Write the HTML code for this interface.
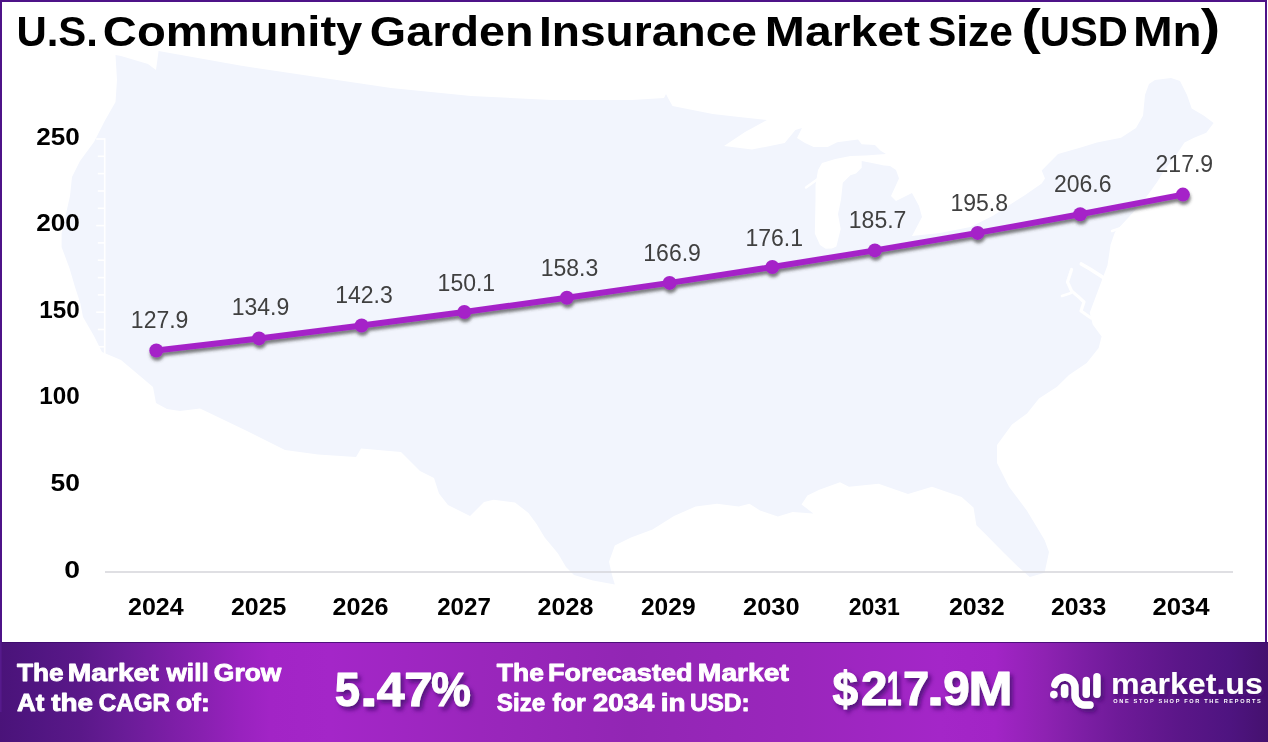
<!DOCTYPE html><html><head><meta charset="utf-8"><title>U.S. Community Garden Insurance Market Size</title>
<style>html,body{margin:0;padding:0;background:#fff;}body{width:1268px;height:742px;overflow:hidden;position:relative;}svg{position:absolute;left:0;top:0;display:block;}.b{font-family:"Liberation Sans",Arial,sans-serif;font-weight:700;}.r{font-family:"Liberation Sans",Arial,sans-serif;font-weight:400;}</style></head><body>
<svg width="1268" height="742" viewBox="0 0 1268 742">
<defs><linearGradient id="band" x1="0" y1="0" x2="1268" y2="0" gradientUnits="userSpaceOnUse"><stop offset="0.0000" stop-color="#4A1379"/><stop offset="0.0237" stop-color="#4F1580"/><stop offset="0.0631" stop-color="#5A1889"/><stop offset="0.0994" stop-color="#6A1C98"/><stop offset="0.1341" stop-color="#7C1EA6"/><stop offset="0.1593" stop-color="#8820B0"/><stop offset="0.1893" stop-color="#9822BE"/><stop offset="0.2129" stop-color="#A224C6"/><stop offset="0.2603" stop-color="#A426C8"/><stop offset="0.3785" stop-color="#9A26BC"/><stop offset="0.4968" stop-color="#9226B4"/><stop offset="0.6309" stop-color="#9A26BC"/><stop offset="0.7413" stop-color="#A426C8"/><stop offset="0.7847" stop-color="#A224C6"/><stop offset="0.8241" stop-color="#8E22B2"/><stop offset="0.8557" stop-color="#7C1EA4"/><stop offset="0.8833" stop-color="#6E1A98"/><stop offset="0.9330" stop-color="#5A1688"/><stop offset="0.9700" stop-color="#4E1480"/><stop offset="1.0000" stop-color="#45116F"/></linearGradient><filter id="mb" x="-2%" y="-2%" width="104%" height="104%"><feGaussianBlur stdDeviation="0.7"/></filter><filter id="ls" x="-5%" y="-20%" width="110%" height="160%"><feDropShadow dx="0.8" dy="3.3" stdDeviation="1.4" flood-color="#3a3a3a" flood-opacity="0.65"/></filter><filter id="ts" x="-10%" y="-20%" width="130%" height="160%"><feDropShadow dx="3" dy="3.5" stdDeviation="2" flood-color="#4a0a72" flood-opacity="0.85"/></filter></defs>
<g filter="url(#mb)"><path d="M115.5 55.0 L121.0 56.0 L148.0 64.0 L156.0 70.0 L158.6 51.0 L240.0 65.6 L310.0 76.0 L391.0 88.0 L471.0 96.0 L552.0 100.0 L632.0 100.0 L664.0 98.0 L666.0 94.0 L668.0 98.0 L672.5 106.0 L712.7 114.0 L739.0 117.0 L767.0 120.0 L745.0 132.0 L724.0 146.0 L752.0 149.6 L784.7 143.0 L795.4 130.0 L802.0 128.0 L797.0 138.0 L805.0 143.0 L813.6 147.0 L827.7 147.0 L837.2 142.3 L858.0 139.4 L861.7 144.2 L874.9 145.1 L880.6 150.8 L886.0 154.0 L865.5 155.5 L850.4 156.0 L835.3 159.0 L822.0 163.0 L818.0 170.0 L815.5 185.0 L815.5 199.8 L814.8 233.6 L820.0 245.0 L825.6 248.7 L832.0 248.5 L836.4 246.6 L840.7 229.0 L838.0 214.0 L841.0 199.8 L842.8 182.8 L850.4 175.3 L856.0 173.4 L861.7 167.7 L861.7 161.0 L872.0 163.0 L884.0 165.5 L890.0 166.0 L896.0 170.0 L899.0 178.5 L891.0 196.0 L896.0 201.0 L906.0 196.0 L912.0 193.0 L919.0 206.0 L922.0 217.0 L912.0 236.0 L940.0 233.0 L970.5 227.0 L993.0 215.7 L1025.5 194.7 L1041.7 183.4 L1045.0 178.5 L1041.7 170.4 L1058.0 154.0 L1080.0 147.8 L1097.0 142.5 L1121.0 137.7 L1136.0 128.0 L1143.0 115.8 L1145.0 95.0 L1149.0 84.0 L1155.0 80.0 L1171.0 78.0 L1180.0 81.0 L1187.0 95.0 L1191.7 108.5 L1204.0 115.8 L1213.6 123.0 L1206.3 132.8 L1194.0 137.7 L1184.5 142.5 L1174.8 157.0 L1165.0 169.0 L1157.8 181.0 L1150.0 192.0 L1140.0 205.0 L1128.0 218.0 L1115.0 232.0 L1110.6 244.5 L1107.5 265.2 L1098.6 289.0 L1089.7 312.7 L1092.7 324.5 L1101.6 336.4 L1098.6 348.0 L1086.7 363.0 L1069.0 375.0 L1057.0 386.8 L1039.0 398.6 L1027.0 413.5 L1012.0 424.5 L997.0 445.0 L997.0 463.0 L1009.0 486.7 L1026.8 510.4 L1044.6 540.0 L1049.0 552.0 L1044.6 572.7 L1029.8 577.0 L1018.0 566.8 L1003.0 552.0 L985.3 534.0 L976.4 525.3 L973.5 507.5 L961.6 497.0 L932.0 486.7 L908.0 494.0 L878.6 483.8 L849.0 486.7 L840.0 482.3 L819.3 489.7 L807.4 495.6 L801.5 504.5 L813.4 513.4 L792.6 512.0 L777.8 516.4 L760.0 510.4 L749.5 503.8 L738.7 506.5 L717.0 503.8 L695.6 506.5 L674.0 516.0 L652.5 529.4 L631.0 537.5 L614.8 545.5 L609.0 561.7 L612.0 575.0 L614.8 584.6 L593.0 580.6 L574.0 575.0 L566.0 567.0 L558.0 553.6 L544.7 537.5 L536.6 524.0 L528.5 513.0 L515.0 502.4 L493.5 499.7 L484.0 502.0 L470.0 516.0 L448.0 505.0 L439.0 493.6 L434.0 478.0 L420.0 471.0 L401.0 452.0 L361.0 448.6 L356.0 457.0 L318.0 454.5 L285.0 450.0 L247.0 431.0 L209.5 413.0 L200.0 408.4 L180.0 411.0 L167.0 409.0 L156.0 403.0 L153.0 387.0 L140.0 376.0 L121.0 360.0 L102.0 352.0 L94.0 336.0 L83.0 317.0 L80.4 303.5 L75.0 287.0 L69.6 268.5 L61.6 247.0 L61.6 233.5 L70.0 196.0 L72.0 177.0 L80.0 161.0 L94.0 142.0 L104.7 121.0 L115.5 102.0 L117.0 80.0 Z" fill="#F2F5FD"/>
<g fill="none" stroke="#fff" stroke-linecap="round" stroke-linejoin="round"><path d="M1071.6 269.4 L1067.5 282 L1071.6 291 L1078 296.4 L1084 302 L1081 311 L1091 318" stroke-width="3.2"/><path d="M1061.9 296 L1071 293" stroke-width="2.4"/><path d="M1081.3 264 L1090 269 L1104 278" stroke-width="3.6"/><path d="M1112 231 L1127 226 L1142 221" stroke-width="2.4"/><path d="M806 187.5 L815 181 L825 174.3" stroke-width="2.4"/></g></g>
<g stroke="#ffffff" stroke-width="1.6" fill="none">
<line x1="104.7" y1="138.2" x2="104.7" y2="572.0"/>
<line x1="96.2" y1="572.0" x2="104.7" y2="572.0"/>
<line x1="97.8" y1="554.7" x2="104.7" y2="554.7"/>
<line x1="97.8" y1="537.4" x2="104.7" y2="537.4"/>
<line x1="97.8" y1="520.0" x2="104.7" y2="520.0"/>
<line x1="97.8" y1="502.7" x2="104.7" y2="502.7"/>
<line x1="96.2" y1="485.4" x2="104.7" y2="485.4"/>
<line x1="97.8" y1="468.1" x2="104.7" y2="468.1"/>
<line x1="97.8" y1="450.8" x2="104.7" y2="450.8"/>
<line x1="97.8" y1="433.4" x2="104.7" y2="433.4"/>
<line x1="97.8" y1="416.1" x2="104.7" y2="416.1"/>
<line x1="96.2" y1="398.8" x2="104.7" y2="398.8"/>
<line x1="97.8" y1="381.5" x2="104.7" y2="381.5"/>
<line x1="97.8" y1="364.2" x2="104.7" y2="364.2"/>
<line x1="97.8" y1="346.8" x2="104.7" y2="346.8"/>
<line x1="97.8" y1="329.5" x2="104.7" y2="329.5"/>
<line x1="96.2" y1="312.2" x2="104.7" y2="312.2"/>
<line x1="97.8" y1="294.9" x2="104.7" y2="294.9"/>
<line x1="97.8" y1="277.6" x2="104.7" y2="277.6"/>
<line x1="97.8" y1="260.2" x2="104.7" y2="260.2"/>
<line x1="97.8" y1="242.9" x2="104.7" y2="242.9"/>
<line x1="96.2" y1="225.6" x2="104.7" y2="225.6"/>
<line x1="97.8" y1="208.3" x2="104.7" y2="208.3"/>
<line x1="97.8" y1="191.0" x2="104.7" y2="191.0"/>
<line x1="97.8" y1="173.6" x2="104.7" y2="173.6"/>
<line x1="97.8" y1="156.3" x2="104.7" y2="156.3"/>
<line x1="96.2" y1="139.0" x2="104.7" y2="139.0"/>
</g>
<line x1="105" y1="572.0" x2="1233" y2="572.0" stroke="#D4D4DA" stroke-width="1.6"/>
<text class="b" x="64.18" y="577.60" font-size="24.4" fill="#000" textLength="15.79" lengthAdjust="spacingAndGlyphs">0</text>
<text class="b" x="50.49" y="491.00" font-size="24.4" fill="#000" textLength="29.40" lengthAdjust="spacingAndGlyphs">50</text>
<text class="b" x="39.37" y="404.40" font-size="24.4" fill="#000" textLength="40.42" lengthAdjust="spacingAndGlyphs">100</text>
<text class="b" x="39.37" y="317.80" font-size="24.4" fill="#000" textLength="40.42" lengthAdjust="spacingAndGlyphs">150</text>
<text class="b" x="36.19" y="231.20" font-size="24.4" fill="#000" textLength="43.68" lengthAdjust="spacingAndGlyphs">200</text>
<text class="b" x="36.29" y="144.60" font-size="24.4" fill="#000" textLength="43.58" lengthAdjust="spacingAndGlyphs">250</text>
<text class="b" x="128.03" y="614.6" font-size="24.4" fill="#000" textLength="55.70" lengthAdjust="spacingAndGlyphs">2024</text>
<text class="b" x="230.94" y="614.6" font-size="24.4" fill="#000" textLength="55.46" lengthAdjust="spacingAndGlyphs">2025</text>
<text class="b" x="332.43" y="614.6" font-size="24.4" fill="#000" textLength="55.98" lengthAdjust="spacingAndGlyphs">2026</text>
<text class="b" x="437.16" y="614.6" font-size="24.4" fill="#000" textLength="53.70" lengthAdjust="spacingAndGlyphs">2027</text>
<text class="b" x="537.63" y="614.6" font-size="24.4" fill="#000" textLength="55.84" lengthAdjust="spacingAndGlyphs">2028</text>
<text class="b" x="640.95" y="614.6" font-size="24.4" fill="#000" textLength="54.66" lengthAdjust="spacingAndGlyphs">2029</text>
<text class="b" x="743.12" y="614.6" font-size="24.4" fill="#000" textLength="56.52" lengthAdjust="spacingAndGlyphs">2030</text>
<text class="b" x="848.70" y="614.6" font-size="24.4" fill="#000" textLength="51.24" lengthAdjust="spacingAndGlyphs">2031</text>
<text class="b" x="948.93" y="614.6" font-size="24.4" fill="#000" textLength="55.77" lengthAdjust="spacingAndGlyphs">2032</text>
<text class="b" x="1050.94" y="614.6" font-size="24.4" fill="#000" textLength="55.26" lengthAdjust="spacingAndGlyphs">2033</text>
<text class="b" x="1152.41" y="614.6" font-size="24.4" fill="#000" textLength="57.23" lengthAdjust="spacingAndGlyphs">2034</text>
<g filter="url(#ls)">
<polyline points="156.3,350.5 259.0,338.4 361.6,325.5 464.3,312.0 566.9,297.8 669.6,282.9 772.3,267.0 874.9,250.4 977.6,232.9 1080.2,214.2 1182.9,194.6" fill="none" stroke="#A524C8" stroke-width="6" stroke-linejoin="round"/>
<circle cx="156.3" cy="350.5" r="7" fill="#A524C8"/>
<circle cx="259.0" cy="338.4" r="7" fill="#A524C8"/>
<circle cx="361.6" cy="325.5" r="7" fill="#A524C8"/>
<circle cx="464.3" cy="312.0" r="7" fill="#A524C8"/>
<circle cx="566.9" cy="297.8" r="7" fill="#A524C8"/>
<circle cx="669.6" cy="282.9" r="7" fill="#A524C8"/>
<circle cx="772.3" cy="267.0" r="7" fill="#A524C8"/>
<circle cx="874.9" cy="250.4" r="7" fill="#A524C8"/>
<circle cx="977.6" cy="232.9" r="7" fill="#A524C8"/>
<circle cx="1080.2" cy="214.2" r="7" fill="#A524C8"/>
<circle cx="1182.9" cy="194.6" r="7" fill="#A524C8"/>
</g>
<text class="r" x="159.65" y="327.88" font-size="23" text-anchor="middle" fill="#404040">127.9</text>
<text class="r" x="260.46" y="315.35" font-size="23" text-anchor="middle" fill="#404040">134.9</text>
<text class="r" x="364.02" y="302.94" font-size="23" text-anchor="middle" fill="#404040">142.3</text>
<text class="r" x="466.38" y="290.63" font-size="23" text-anchor="middle" fill="#404040">150.1</text>
<text class="r" x="569.44" y="276.12" font-size="23" text-anchor="middle" fill="#404040">158.3</text>
<text class="r" x="672.10" y="261.43" font-size="23" text-anchor="middle" fill="#404040">166.9</text>
<text class="r" x="774.26" y="245.59" font-size="23" text-anchor="middle" fill="#404040">176.1</text>
<text class="r" x="877.62" y="227.97" font-size="23" text-anchor="middle" fill="#404040">185.7</text>
<text class="r" x="979.28" y="211.17" font-size="23" text-anchor="middle" fill="#404040">195.8</text>
<text class="r" x="1082.74" y="191.67" font-size="23" text-anchor="middle" fill="#404040">206.6</text>
<text class="r" x="1184.35" y="172.10" font-size="23" text-anchor="middle" fill="#404040">217.9</text>
<text class="b" x="16.38" y="46.3" font-size="43.0" fill="#000" textLength="81.61" lengthAdjust="spacingAndGlyphs">U.S.</text>
<text class="b" x="102.86" y="46.3" font-size="43.0" fill="#000" textLength="259.49" lengthAdjust="spacingAndGlyphs">Community</text>
<text class="b" x="369.88" y="46.3" font-size="43.0" fill="#000" textLength="163.61" lengthAdjust="spacingAndGlyphs">Garden</text>
<text class="b" x="538.91" y="46.3" font-size="43.0" fill="#000" textLength="218.07" lengthAdjust="spacingAndGlyphs">Insurance</text>
<text class="b" x="764.78" y="46.3" font-size="43.0" fill="#000" textLength="155.31" lengthAdjust="spacingAndGlyphs">Market</text>
<text class="b" x="927.88" y="46.3" font-size="43.0" fill="#000" textLength="85.08" lengthAdjust="spacingAndGlyphs">Size</text>
<text class="b" x="1039.80" y="46.3" font-size="43.0" fill="#000" textLength="88.06" lengthAdjust="spacingAndGlyphs">USD</text>
<text class="b" x="1132.91" y="46.3" font-size="43.0" fill="#000" textLength="68.85" lengthAdjust="spacingAndGlyphs">Mn</text>
<text class="b" x="1021.17" y="44.3" font-size="50.1" fill="#000" textLength="19.59" lengthAdjust="spacingAndGlyphs">(</text>
<text class="b" x="1200.74" y="44.3" font-size="50.1" fill="#000" textLength="19.47" lengthAdjust="spacingAndGlyphs">)</text>
<rect x="1" y="1" width="1265" height="660" fill="none" stroke="#4E1388" stroke-width="2"/>
<rect x="0" y="642" width="1268" height="100" fill="url(#band)"/>
<rect x="0" y="642" width="1268" height="1" fill="#3A0A6A" opacity="0.8"/>
<rect x="0" y="642" width="1.6" height="70" fill="#561A8C"/>
<g class="b" fill="#fff">
<text x="16.96" y="681.30" font-size="24.50" textLength="46.59" lengthAdjust="spacingAndGlyphs" stroke="#fff" stroke-width="0.90" stroke-linejoin="round">The</text>
<text x="67.76" y="681.30" font-size="24.50" textLength="90.93" lengthAdjust="spacingAndGlyphs" stroke="#fff" stroke-width="0.90" stroke-linejoin="round">Market</text>
<text x="166.53" y="681.30" font-size="24.50" textLength="42.18" lengthAdjust="spacingAndGlyphs" stroke="#fff" stroke-width="0.90" stroke-linejoin="round">will</text>
<text x="213.87" y="681.30" font-size="24.50" textLength="67.53" lengthAdjust="spacingAndGlyphs" stroke="#fff" stroke-width="0.90" stroke-linejoin="round">Grow</text>
<text x="17.00" y="711.30" font-size="24.50" textLength="27.36" lengthAdjust="spacingAndGlyphs" stroke="#fff" stroke-width="0.90" stroke-linejoin="round">At</text>
<text x="51.21" y="711.30" font-size="24.50" textLength="41.90" lengthAdjust="spacingAndGlyphs" stroke="#fff" stroke-width="0.90" stroke-linejoin="round">the</text>
<text x="98.66" y="711.30" font-size="24.50" textLength="71.29" lengthAdjust="spacingAndGlyphs" stroke="#fff" stroke-width="0.90" stroke-linejoin="round">CAGR</text>
<text x="175.91" y="711.30" font-size="24.50" textLength="33.89" lengthAdjust="spacingAndGlyphs" stroke="#fff" stroke-width="0.90" stroke-linejoin="round">of:</text>
<text x="496.85" y="681.30" font-size="24.50" textLength="47.00" lengthAdjust="spacingAndGlyphs" stroke="#fff" stroke-width="0.90" stroke-linejoin="round">The</text>
<text x="548.04" y="681.30" font-size="24.50" textLength="144.50" lengthAdjust="spacingAndGlyphs" stroke="#fff" stroke-width="0.90" stroke-linejoin="round">Forecasted</text>
<text x="697.86" y="681.30" font-size="24.50" textLength="91.03" lengthAdjust="spacingAndGlyphs" stroke="#fff" stroke-width="0.90" stroke-linejoin="round">Market</text>
<text x="496.85" y="711.30" font-size="24.50" textLength="48.32" lengthAdjust="spacingAndGlyphs" stroke="#fff" stroke-width="0.90" stroke-linejoin="round">Size</text>
<text x="552.52" y="711.30" font-size="24.50" textLength="33.20" lengthAdjust="spacingAndGlyphs" stroke="#fff" stroke-width="0.90" stroke-linejoin="round">for</text>
<text x="593.00" y="711.30" font-size="24.50" textLength="61.20" lengthAdjust="spacingAndGlyphs" stroke="#fff" stroke-width="0.90" stroke-linejoin="round">2034</text>
<text x="660.70" y="711.30" font-size="24.50" textLength="24.78" lengthAdjust="spacingAndGlyphs" stroke="#fff" stroke-width="0.90" stroke-linejoin="round">in</text>
<text x="689.88" y="711.30" font-size="24.50" textLength="59.82" lengthAdjust="spacingAndGlyphs" stroke="#fff" stroke-width="0.90" stroke-linejoin="round">USD:</text>
</g>
<g class="b" fill="#fff" filter="url(#ts)">
<text x="334.66" y="706.40" font-size="47.50" textLength="25.15" lengthAdjust="spacingAndGlyphs" stroke="#fff" stroke-width="1.10" stroke-linejoin="round">5</text>
<text x="359.83" y="706.40" font-size="47.50" textLength="18.11" lengthAdjust="spacingAndGlyphs" stroke="#fff" stroke-width="1.10" stroke-linejoin="round">.</text>
<text x="376.69" y="706.40" font-size="47.50" textLength="27.83" lengthAdjust="spacingAndGlyphs" stroke="#fff" stroke-width="1.10" stroke-linejoin="round">4</text>
<text x="404.35" y="706.40" font-size="47.50" textLength="28.45" lengthAdjust="spacingAndGlyphs" stroke="#fff" stroke-width="1.10" stroke-linejoin="round">7</text>
<text x="431.24" y="706.40" font-size="47.50" textLength="39.58" lengthAdjust="spacingAndGlyphs" stroke="#fff" stroke-width="1.10" stroke-linejoin="round">%</text>
<text x="832.54" y="705.20" font-size="47.50" textLength="25.56" lengthAdjust="spacingAndGlyphs" stroke="#fff" stroke-width="1.10" stroke-linejoin="round">$</text>
<text x="861.01" y="705.20" font-size="47.50" textLength="26.34" lengthAdjust="spacingAndGlyphs" stroke="#fff" stroke-width="1.10" stroke-linejoin="round">2</text>
<text x="886.91" y="705.20" font-size="47.50" textLength="14.46" lengthAdjust="spacingAndGlyphs" stroke="#fff" stroke-width="1.10" stroke-linejoin="round">1</text>
<text x="903.03" y="705.20" font-size="47.50" textLength="26.19" lengthAdjust="spacingAndGlyphs" stroke="#fff" stroke-width="1.10" stroke-linejoin="round">7</text>
<text x="926.67" y="705.20" font-size="47.50" textLength="17.52" lengthAdjust="spacingAndGlyphs" stroke="#fff" stroke-width="1.10" stroke-linejoin="round">.</text>
<text x="943.30" y="705.20" font-size="47.50" textLength="26.41" lengthAdjust="spacingAndGlyphs" stroke="#fff" stroke-width="1.10" stroke-linejoin="round">9</text>
<text x="968.61" y="705.20" font-size="47.50" textLength="44.08" lengthAdjust="spacingAndGlyphs" stroke="#fff" stroke-width="1.10" stroke-linejoin="round">M</text>
</g>
<g filter="url(#ts)">
<g fill="none" stroke="#fff" stroke-width="7.4" stroke-linecap="round"><path d="M1054.85 684.5 A10.3 10.3 0 0 1 1075 687.5 L1075 695 A10 10 0 0 0 1085 705 L1090 705"/><line x1="1064.6" y1="687.7" x2="1064.6" y2="694.3"/><line x1="1086.3" y1="680.5" x2="1086.3" y2="694.3"/><line x1="1096.9" y1="676.7" x2="1096.9" y2="694.3"/></g><circle cx="1053.8" cy="694.6" r="3.8" fill="#fff"/>
<g class="b" fill="#fff">
<text x="1111.08" y="693.90" font-size="29.50" textLength="151.73" lengthAdjust="spacingAndGlyphs">market.us</text>
</g>
</g>
<text class="b" x="1113.2" y="703.4" font-size="5.6" fill="#fff" textLength="147.5" lengthAdjust="spacing">ONE STOP SHOP FOR THE REPORTS</text>
</svg></body></html>
